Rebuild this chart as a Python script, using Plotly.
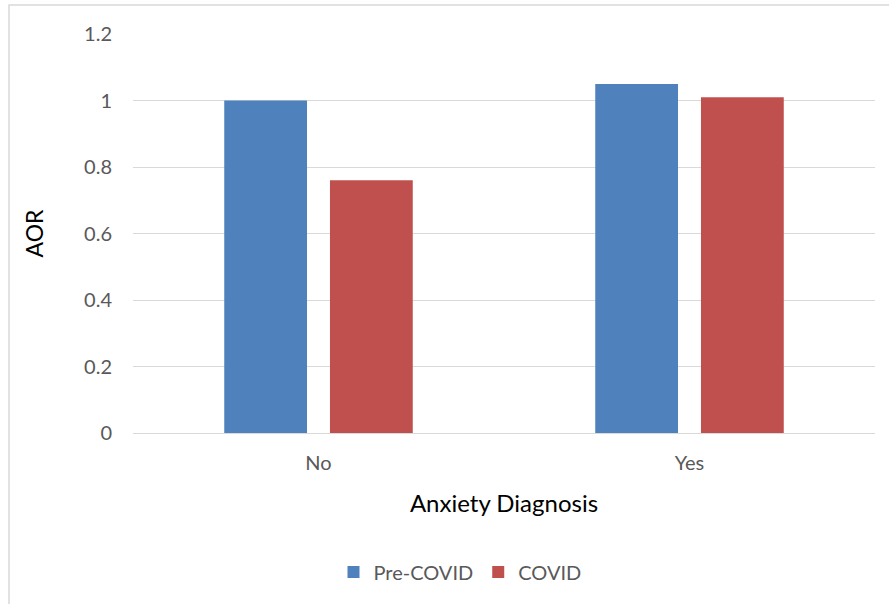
import plotly.graph_objects as go

categories = ["No", "Yes"]
pre_covid = [1.0, 1.05]
covid = [0.76, 1.01]
y_ticks = [0, 0.2, 0.4, 0.6, 0.8, 1.0, 1.2]
y_tick_text = ["0", "0.2", "0.4", "0.6", "0.8", "1", "1.2"]

FONT = "Lato, 'Open Sans', sans-serif"
GRAY = "#595959"

fig = go.Figure()
fig.add_trace(go.Bar(name="Pre-COVID", x=categories, y=pre_covid,
                     marker=dict(color="#4F81BD", line=dict(width=0))))
fig.add_trace(go.Bar(name="COVID", x=categories, y=covid,
                     marker=dict(color="#C0504D", line=dict(width=0))))

L, R, T, B = 133, 14, 34, 171
W, H = 889, 604
pw, ph = W - L - R, H - T - B

fig.update_layout(
    width=W, height=H,
    margin=dict(l=L, r=R, t=T, b=B),
    paper_bgcolor="white", plot_bgcolor="white",
    barmode="group", bargap=0.43, bargroupgap=0.217,
    font=dict(family=FONT, color=GRAY, size=20),
    showlegend=True,
    legend=dict(orientation="h", x=(460 - L) / pw, xanchor="center",
                y=(T + ph - 572) / ph, yanchor="middle",
                font=dict(family=FONT, size=20, color=GRAY),
                itemsizing="constant", traceorder="normal"),
    xaxis=dict(
        showgrid=False, showline=False, zeroline=False,
        ticks="", ticklabelstandoff=16,
        tickfont=dict(family=FONT, size=20, color=GRAY),
        title=dict(text="Anxiety Diagnosis", standoff=22,
                   font=dict(family=FONT, size=24, color="black")),
    ),
    yaxis=dict(
        range=[0, 1.2], tickvals=y_ticks, ticktext=y_tick_text,
        showgrid=True, gridcolor="#D9D9D9", gridwidth=1,
        zeroline=True, zerolinecolor="#D9D9D9", zerolinewidth=1,
        showline=False, ticks="", ticklabelstandoff=20,
        tickfont=dict(family=FONT, size=20, color=GRAY),
        title=dict(text="AOR", standoff=34,
                   font=dict(family=FONT, size=23, color="black")),
    ),
    shapes=[dict(
        type="rect", xref="paper", yref="paper",
        x0=(9 - L) / pw, x1=(W + 5 - L) / pw,
        y0=-(B + 5) / ph, y1=1 + (T - 5) / ph,
        line=dict(color="#D9D9D9", width=1.5), fillcolor="rgba(0,0,0,0)",
        layer="below",
    )],
)

fig.write_html("out.html")
